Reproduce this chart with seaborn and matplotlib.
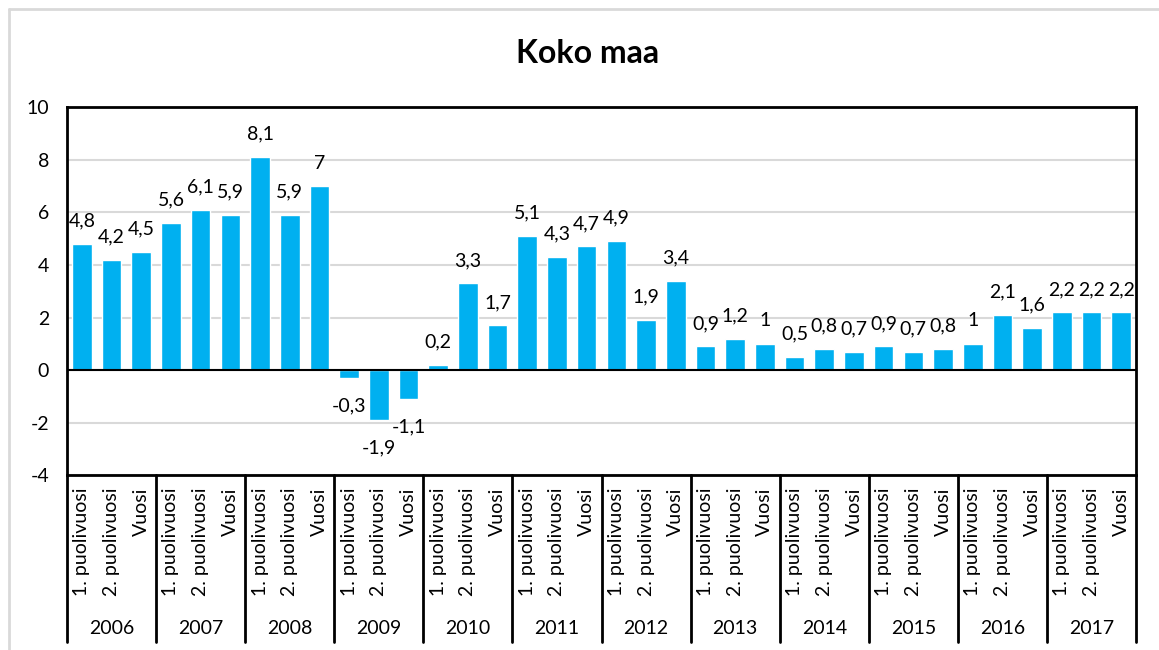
import pandas as pd
import matplotlib
matplotlib.use('Agg')
import matplotlib.pyplot as plt
import matplotlib.transforms as mtransforms
from matplotlib.lines import Line2D
import seaborn as sns

# chart data
years = ['2006', '2007', '2008', '2009', '2010', '2011',
         '2012', '2013', '2014', '2015', '2016', '2017']
periods = ['1. puolivuosi', '2. puolivuosi', 'Vuosi']
values = [4.8, 4.2, 4.5,
          5.6, 6.1, 5.9,
          8.1, 5.9, 7.0,
          -0.3, -1.9, -1.1,
          0.2, 3.3, 1.7,
          5.1, 4.3, 4.7,
          4.9, 1.9, 3.4,
          0.9, 1.2, 1.0,
          0.5, 0.8, 0.7,
          0.9, 0.7, 0.8,
          1.0, 2.1, 1.6,
          2.2, 2.2, 2.2]

sns.set_theme(style='white')
plt.rcParams['font.family'] = ['Lato', 'DejaVu Sans']
plt.rcParams['axes.unicode_minus'] = False
plt.rcParams['text.color'] = 'black'
plt.rcParams['xtick.color'] = 'black'
plt.rcParams['ytick.color'] = 'black'

df = pd.DataFrame({
    'year': [y for y in years for p in periods],
    'period': [p for y in years for p in periods],
    'value': values,
})
df['key'] = df['year'] + ' ' + df['period']

fs = 14

fig = plt.figure(figsize=(11.59, 6.5), dpi=100)
ax = fig.add_axes([0.0578, 0.2685, 0.9224, 0.567])

sns.barplot(data=df, x='key', y='value', color='#00B0F0', saturation=1,
            width=0.66, ax=ax, zorder=3)

ax.set_ylim(-4, 10)
ax.set_yticks(range(-4, 11, 2))
ax.set_xlim(-0.5, len(df) - 0.5)
ax.set_xticks(range(len(df)))
ax.set_xticklabels(df['period'], rotation=90, fontsize=fs)
ax.tick_params(axis='x', length=0, pad=9)
ax.tick_params(axis='y', length=0, pad=13, labelsize=fs)
ax.set_xlabel('')
ax.set_ylabel('')

ax.grid(axis='y', color='#D9D9D9', linewidth=1.5, zorder=0)
ax.axhline(0, color='black', linewidth=1.5, zorder=4)
for s in ax.spines.values():
    s.set_color('black')
    s.set_linewidth(2)

# value labels, comma decimals
for i, v in enumerate(df['value']):
    txt = f'{v:g}'.replace('.', ',')
    if v >= 0:
        ax.annotate(txt, (i, v), xytext=(0, 12.5), textcoords='offset points',
                    ha='center', va='baseline', fontsize=fs)
    else:
        ax.annotate(txt, (i, v), xytext=(0, -14), textcoords='offset points',
                    ha='center', va='top', fontsize=fs)

# year groups under the period labels
trans = mtransforms.blended_transform_factory(ax.transData, ax.transAxes)
for k, y in enumerate(years):
    ax.text(3 * k + 1, -0.416, y, transform=trans, ha='center', va='center',
            fontsize=fs)
for k in range(len(years) + 1):
    ax.plot([3 * k - 0.5, 3 * k - 0.5], [0, -0.451], transform=trans,
            color='black', linewidth=2, clip_on=False)

fig.suptitle('Koko maa', x=0.507, y=0.94, fontsize=23, fontweight='bold')

# light frame of the chart area
fig.add_artist(Line2D([9 / 1159, 9 / 1159], [0, 1 - 9 / 650],
                      color='#D9D9D9', linewidth=2))
fig.add_artist(Line2D([9 / 1159, 1], [1 - 9 / 650, 1 - 9 / 650],
                      color='#D9D9D9', linewidth=2))

fig.savefig('out.png', dpi=100, facecolor='white')
